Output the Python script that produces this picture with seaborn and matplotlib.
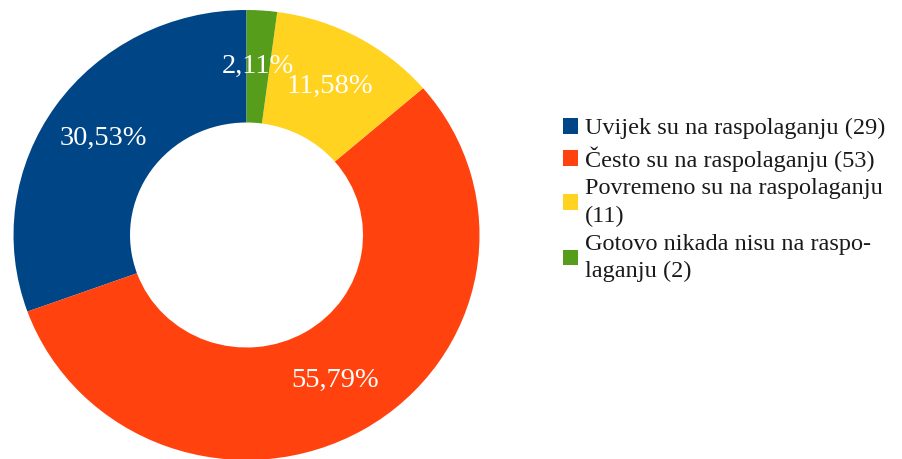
import matplotlib
matplotlib.use('Agg')
import matplotlib.pyplot as plt
import seaborn as sns

# Data
categories = [
    'Uvijek su na raspolaganju',
    'Često su na raspolaganju',
    'Povremeno su na raspolaganju',
    'Gotovo nikada nisu na raspolaganju',
]
legend_labels = [
    'Uvijek su na raspolaganju (29)',
    'Često su na raspolaganju (53)',
    'Povremeno su na raspolaganju\n(11)',
    'Gotovo nikada nisu na raspo-\nlaganju (2)',
]
counts = [29, 53, 11, 2]
colors = ['#004586', '#ff420e', '#ffd320', '#579d1c']

FONT = 'Liberation Serif'
plt.rcParams['font.family'] = [FONT, 'FreeSerif', 'DejaVu Serif']
plt.rcParams['font.serif'] = [FONT, 'FreeSerif', 'DejaVu Serif']

fig = plt.figure(figsize=(9.02, 4.59), dpi=100)
# axes box sized to the ring (slightly squeezed vertically like the source)
ax = fig.add_axes([0.0150, -0.0022, 0.5166, 0.9804])

palette = sns.color_palette(colors)


def pct_fmt(p):
    return f'{p:.2f}%'.replace('.', ',')


wedges, texts, autotexts = ax.pie(
    counts,
    colors=palette,
    startangle=90,
    counterclock=True,
    autopct=pct_fmt,
    pctdistance=0.75,
    radius=1.0,
    wedgeprops=dict(width=0.5, linewidth=0),
    textprops=dict(color='white', fontsize=20.5, family=FONT),
)
ax.set_aspect('auto')
ax.set_xlim(-1, 1)
ax.set_ylim(-1, 1)
ax.axis('off')

leg = fig.legend(
    wedges, legend_labels,
    loc='center left',
    bbox_to_anchor=(0.624, 0.564),
    frameon=False,
    prop={'family': FONT, 'size': 17.5},
    handlelength=0.62,
    handleheight=0.62,
    handletextpad=0.3,
    labelspacing=0.28,
    borderpad=0,
    borderaxespad=0,
)
for t in leg.get_texts():
    t.set_linespacing(1.4)
    t.set_color('#1a1a1a')
    t.set_family(FONT)

fig.savefig('out.png', dpi=100)
